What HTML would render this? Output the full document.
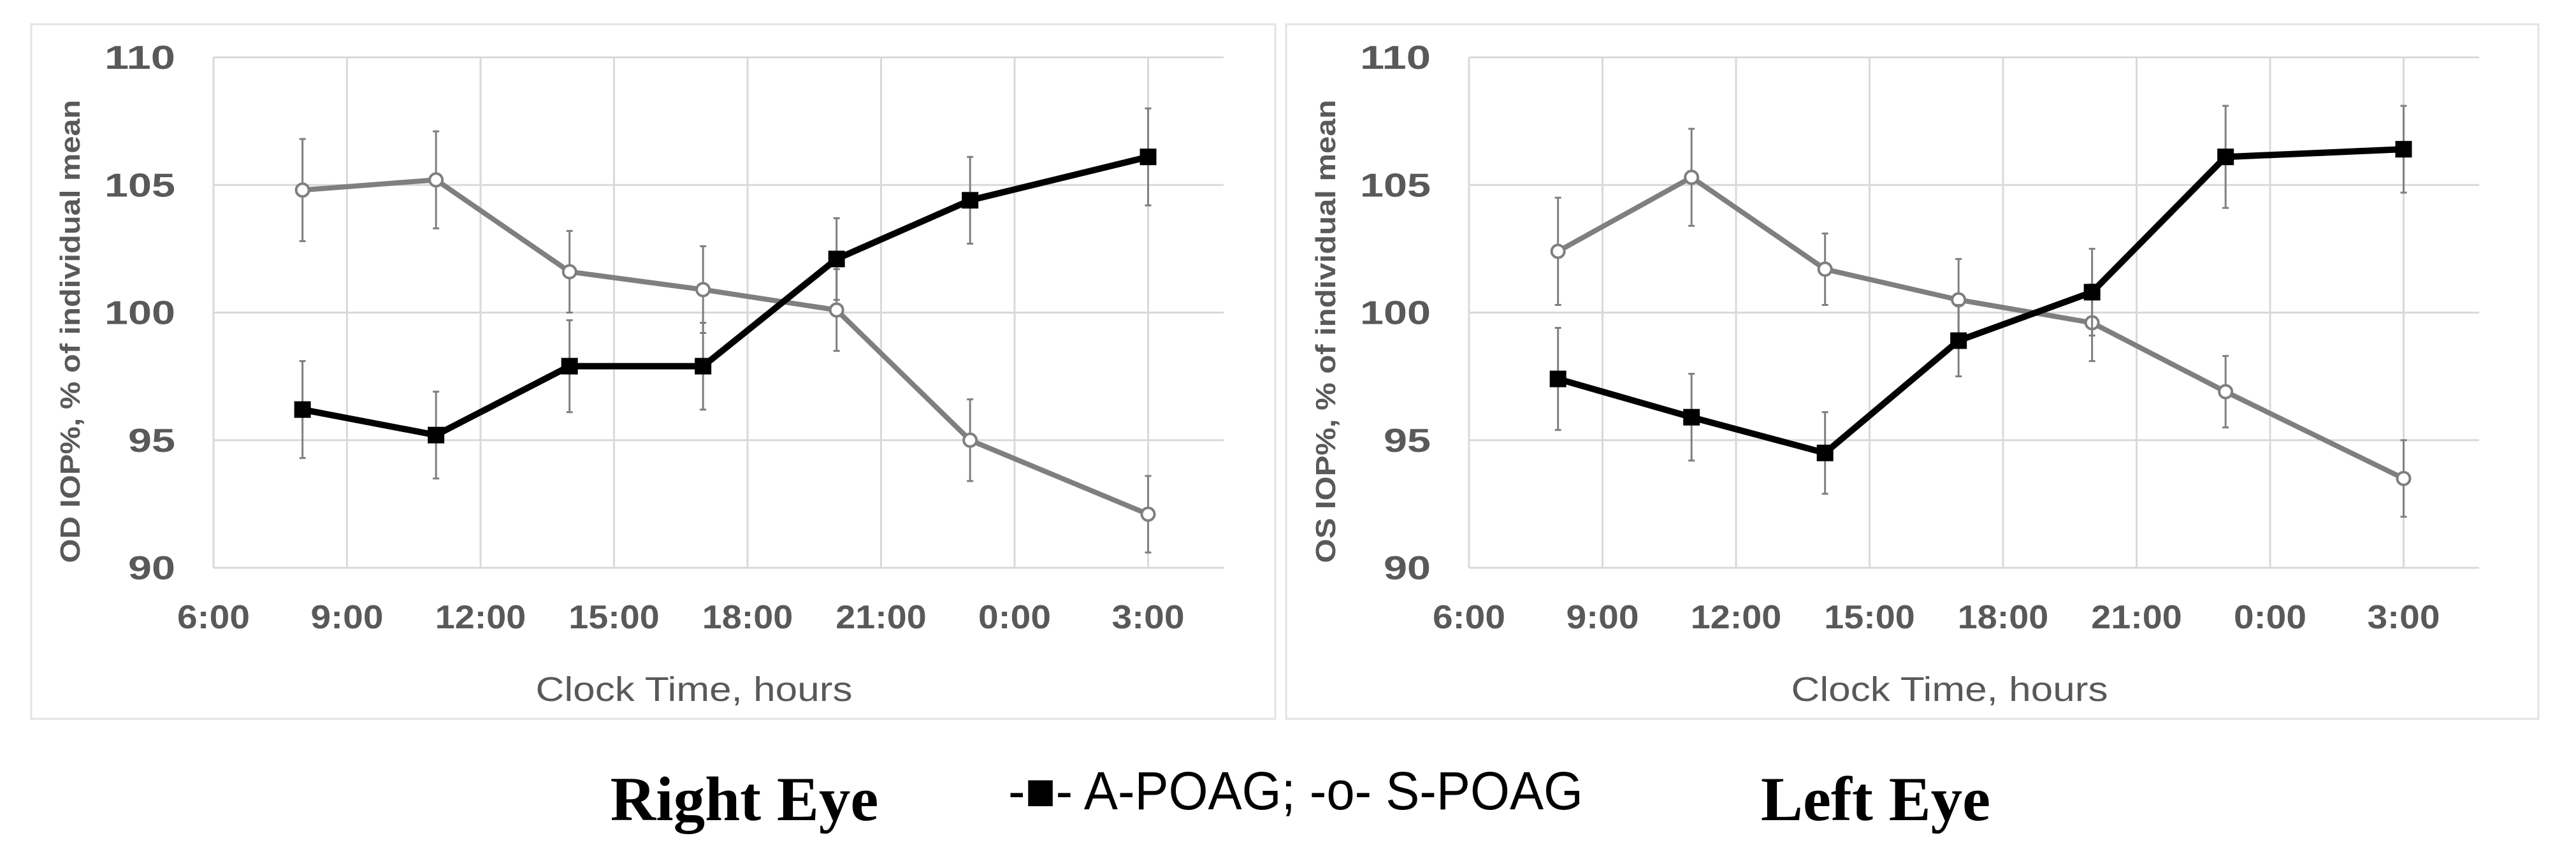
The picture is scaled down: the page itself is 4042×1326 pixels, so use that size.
<!DOCTYPE html>
<html><head><meta charset="utf-8"><style>
html,body{margin:0;padding:0;background:#fff;}
svg{display:block;font-family:"Liberation Sans",sans-serif;}
</style></head><body>
<svg id="fig" width="4042" height="1326" viewBox="0 0 4042 1326">
<rect x="49" y="38" width="1952" height="1090" fill="none" stroke="#e3e3e3" stroke-width="3"/>
<rect x="2018" y="38" width="1965" height="1090" fill="none" stroke="#e3e3e3" stroke-width="3"/>
<text x="1168" y="1287" font-family="Liberation Serif,serif" font-weight="bold" font-size="99" text-anchor="middle">Right Eye</text>
<text x="1582" y="1270" font-size="84" textLength="902" lengthAdjust="spacingAndGlyphs">-■- A-POAG; -o- S-POAG</text>
<text x="2943" y="1287" font-family="Liberation Serif,serif" font-weight="bold" font-size="99" text-anchor="middle">Left Eye</text>
</svg>
<script>
const hours = [8, 11, 14, 17, 20, 23, 27];
const xTickLabels = ["6:00","9:00","12:00","15:00","18:00","21:00","0:00","3:00"];
const yTicks = [90, 95, 100, 105, 110];
const odA = [96.2, 95.2, 97.9, 97.9, 102.1, 104.4, 106.1];
const odAerr = [1.9, 1.7, 1.8, 1.7, 1.6, 1.7, 1.9];
const odS = [104.8, 105.2, 101.6, 100.9, 100.1, 95.0, 92.1];
const odSerr = [2.0, 1.9, 1.6, 1.7, 1.6, 1.6, 1.5];
const osA = [97.4, 95.9, 94.5, 98.9, 100.8, 106.1, 106.4];
const osAerr = [2.0, 1.7, 1.6, 1.4, 1.7, 2.0, 1.7];
const osS = [102.4, 105.3, 101.7, 100.5, 99.6, 96.9, 93.5];
const osSerr = [2.1, 1.9, 1.4, 1.6, 1.5, 1.4, 1.5];

const NS = "http://www.w3.org/2000/svg";
const svg = document.getElementById('fig');
function mk(tag, attrs, parent){
  const e = document.createElementNS(NS, tag);
  for (const k in attrs) e.setAttribute(k, attrs[k]);
  (parent||svg).appendChild(e);
  return e;
}
function panel(prefix, x0, yTitle, A, Aerr, S, Serr){
  const g = mk('g', {});
  
  
  const top = 90, bot = 891, right = x0 + 1585;
  const xs = t => x0 + (t - 6) / 3 * 209.5;
  const ys = v => bot - (v - 90) / 20 * (bot - top);
  yTicks.forEach(v => {
    const l = mk('line', {x1:x0, x2:right, y1:ys(v), y2:ys(v), stroke:'#d9d9d9', 'stroke-width':3}, g);
    
    
    const s = String(v);
    const t = mk('text', {x:x0-60, y:ys(v)+18, 'font-size':52, 'font-weight':'bold', fill:'#595959', 'text-anchor':'end', textLength:s.length*37, lengthAdjust:'spacingAndGlyphs'}, g);
    t.textContent = s;
    
    
  });
  xTickLabels.forEach((lab, i) => {
    const x = xs(6 + 3 * i);
    const l = mk('line', {x1:x, x2:x, y1:top, y2:bot, stroke:'#d9d9d9', 'stroke-width':3}, g);
    
    
    const t = mk('text', {x:x, y:986, 'font-size':52, 'font-weight':'bold', fill:'#595959', 'text-anchor':'middle', textLength:lab.length*28.5, lengthAdjust:'spacingAndGlyphs'}, g);
    t.textContent = lab;
    
    
  });
  const xt = mk('text', {x:x0+754, y:1100, 'font-size':54, fill:'#595959', 'text-anchor':'middle', textLength:497, lengthAdjust:'spacingAndGlyphs'}, g);
  xt.textContent = 'Clock Time, hours';
  
  
  const yt = mk('text', {x:0, y:0, 'font-size':44, 'font-weight':'bold', fill:'#595959', 'text-anchor':'middle', textLength:727, lengthAdjust:'spacingAndGlyphs', transform:`translate(${x0-210},520) rotate(-90)`}, g);
  yt.textContent = yTitle;
  
  
  function series(vals, errs, color, w, name){
    vals.forEach((v, i) => {
      const x = xs(hours[i]);
      const e = mk('path', {d:`M${x},${ys(v-errs[i])}V${ys(v+errs[i])}M${x-5},${ys(v-errs[i])}h10M${x-5},${ys(v+errs[i])}h10`, stroke:'#7f7f7f', 'stroke-width':3, fill:'none'}, g);
      
      
    });
    const pl = mk('polyline', {points: vals.map((v,i)=>xs(hours[i])+','+ys(v)).join(' '), fill:'none', stroke:color, 'stroke-width':w, 'stroke-linejoin':'round'}, g);
    
    
    vals.forEach((v, i) => {
      const x = xs(hours[i]), y = ys(v);
      let m;
      if (name.endsWith('a-poag')) m = mk('rect', {x:x-13, y:y-13, width:26, height:26, fill:'#000'}, g);
      else m = mk('circle', {cx:x, cy:y, r:10, fill:'#fff', stroke:'#7f7f7f', 'stroke-width':4}, g);
      
      
    });
  }
  series(S, Serr, '#7f7f7f', 8, prefix + '-s-poag');
  series(A, Aerr, '#000', 10, prefix + '-a-poag');
}
panel('od', 335, 'OD IOP%, % of individual mean', odA, odAerr, odS, odSerr);
panel('os', 2305, 'OS IOP%, % of individual mean', osA, osAerr, osS, osSerr);
</script>
</body></html>
